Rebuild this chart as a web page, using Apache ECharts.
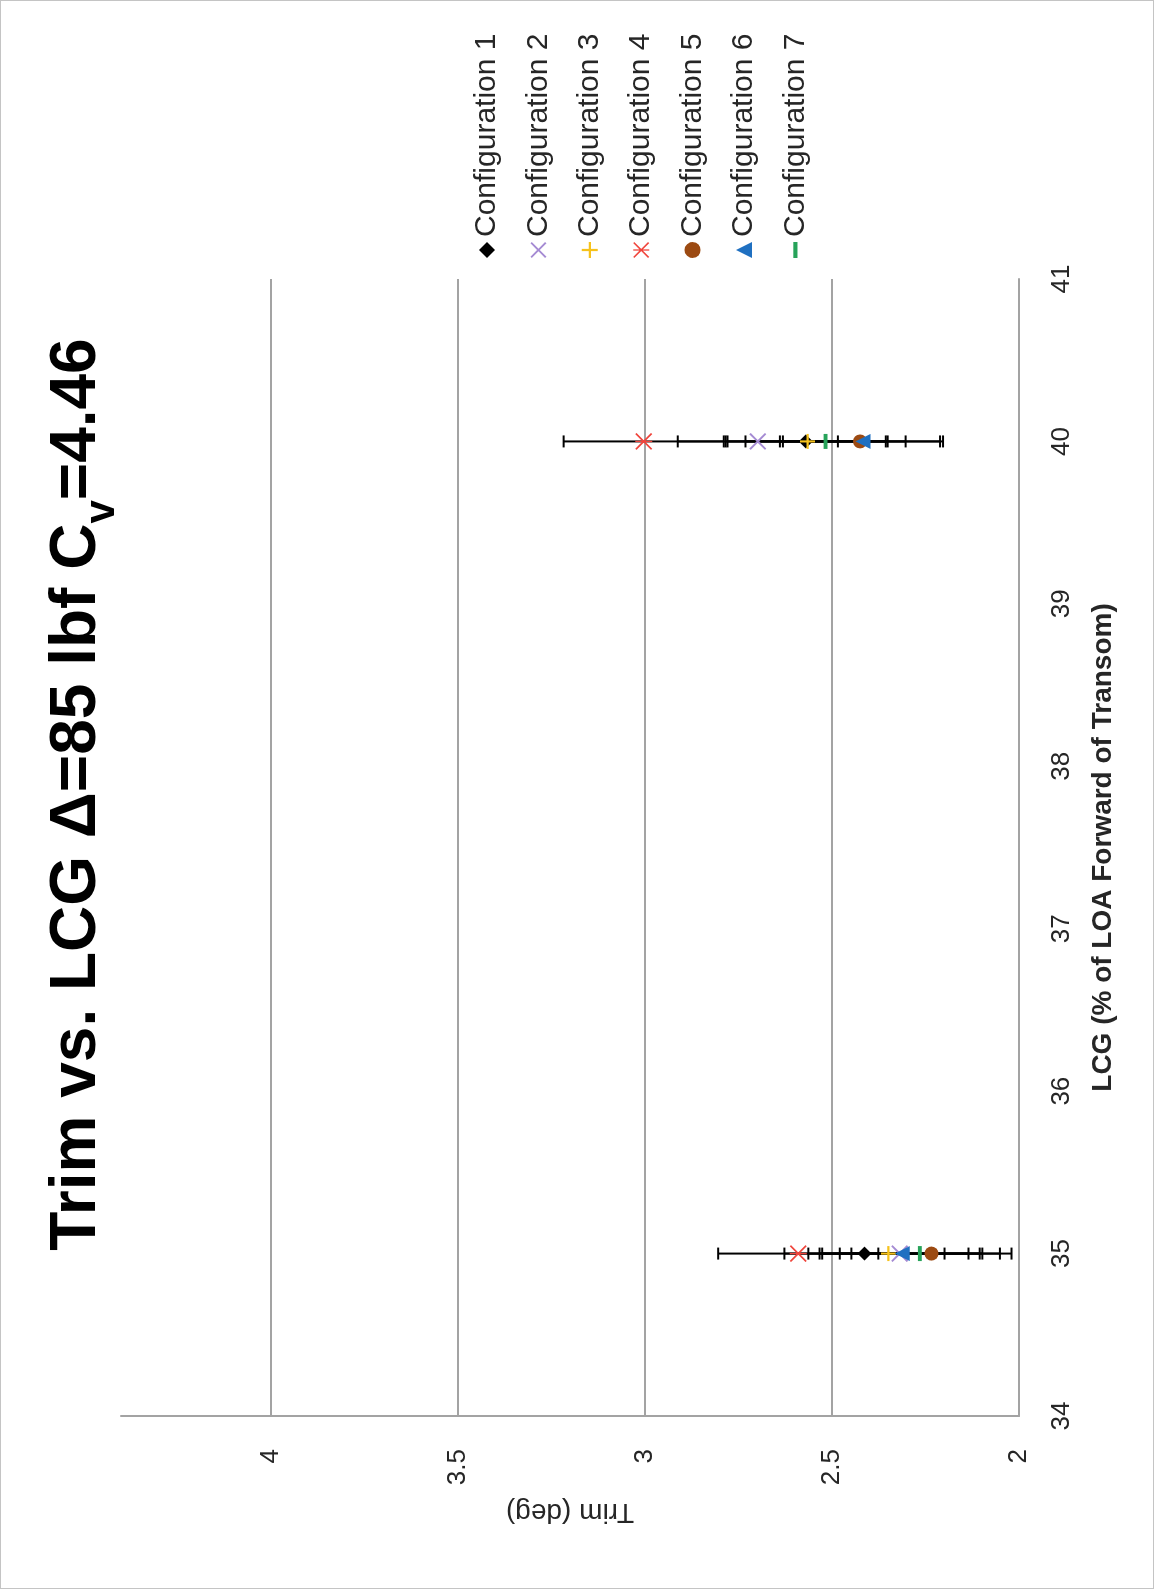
<!DOCTYPE html>
<html>
<head>
<meta charset="utf-8">
<title>Trim vs. LCG</title>
<script src="https://cdn.jsdelivr.net/npm/echarts@6/dist/echarts.min.js"></script>
<style>
  html, body { margin: 0; padding: 0; background: #ffffff; width: 1154px; height: 1589px; overflow: hidden; }
  /* thin chart-area frame */
  #frame {
    position: absolute; left: 0; top: 0; width: 1154px; height: 1589px;
    box-sizing: border-box; border: 1px solid #c4c4c4; pointer-events: none; z-index: 2;
  }
  /* The chart is laid out landscape and turned a quarter turn counter-clockwise on the portrait page. */
  #chart {
    position: absolute; left: 0; top: 0;
    width: 1589px; height: 1154px;
    transform-origin: 0 0;
    transform: translate(0, 1589px) rotate(-90deg);
  }
</style>
</head>
<body>
<div id="chart"></div>
<div id="frame"></div>
<script>
// LCG stations tested (% of LOA forward of transom)
const lcgPositions = [35, 40];

const seriesNames = [
  'Configuration 1', 'Configuration 2', 'Configuration 3', 'Configuration 4',
  'Configuration 5', 'Configuration 6', 'Configuration 7'
];

// Measured trim (deg) at each LCG station
const config1Trim = [2.413, 2.570];
const config2Trim = [2.319, 2.698];
const config3Trim = [2.349, 2.565];
const config4Trim = [2.590, 3.003];
const config5Trim = [2.234, 2.425];
const config6Trim = [2.312, 2.417];
const config7Trim = [2.265, 2.517];

// Uncertainty (+/- deg) for each configuration
const trimErrors = [0.214, 0.214, 0.214, 0.214, 0.214, 0.214, 0.214];

// Axis ranges
const lcgTicks = [34, 35, 36, 37, 38, 39, 40, 41];
const trimTicks = [2, 2.5, 3, 3.5, 4];
const trimAxisMax = 4.4;

const allTrims = [config1Trim, config2Trim, config3Trim, config4Trim, config5Trim, config6Trim, config7Trim];

const FONT = '"Liberation Sans", Arial, sans-serif';
const TEXT = '#262626';
const GRID = '#a3a3a3';

// Marker shapes, each drawn inside a 100x100 box
const X_PATH = 'path://M0,8L8,0L50,42L92,0L100,8L58,50L100,92L92,100L50,58L8,100L0,92L42,50Z';
const PLUS_PATH = 'path://M43,0H57V43H100V57H57V100H43V57H0V43H43Z';
const STAR_PATH = 'path://M0,7L7,0L50,43L93,0L100,7L57,50L100,93L93,100L50,57L7,100L0,93L43,50Z M46,0H54V100H46Z';
const DASH_PATH = 'path://M0,0M100,100M0,37H100V63H0Z';

const markerStyles = [
  { symbol: 'diamond', size: 14, color: '#000000' },
  { symbol: X_PATH, size: 17, color: '#a58bd3' },
  { symbol: PLUS_PATH, size: 15, color: '#f6c21c' },
  { symbol: STAR_PATH, size: 17, color: '#f0453c' },
  { symbol: 'circle', size: 14, color: '#9c4a12' },
  { symbol: 'triangle', size: 15, color: '#1f70c1' },
  { symbol: DASH_PATH, size: 15, color: '#27a35a' }
];

// Error bar records: [lcg, trim, halfRange]
const errorBarData = [];
allTrims.forEach((trims, s) => {
  lcgPositions.forEach((lcg, i) => errorBarData.push([lcg, trims[i], trimErrors[s]]));
});

function renderErrorBar(params, api) {
  const x = api.value(0), y = api.value(1), e = api.value(2);
  const hi = api.coord([x, y + e]);
  const lo = api.coord([x, y - e]);
  const cap = 6;
  const style = { stroke: '#000000', lineWidth: 2 };
  return {
    type: 'group',
    children: [
      { type: 'line', shape: { x1: hi[0], y1: hi[1], x2: lo[0], y2: lo[1] }, style },
      { type: 'line', shape: { x1: hi[0] - cap, y1: hi[1], x2: hi[0] + cap, y2: hi[1] }, style },
      { type: 'line', shape: { x1: lo[0] - cap, y1: lo[1], x2: lo[0] + cap, y2: lo[1] }, style }
    ]
  };
}

const scatterSeries = seriesNames.map((name, s) => ({
  name,
  type: 'scatter',
  z: 3,
  symbol: markerStyles[s].symbol,
  symbolSize: markerStyles[s].size,
  itemStyle: { color: markerStyles[s].color, opacity: 1 },
  emphasis: { disabled: true },
  data: lcgPositions.map((lcg, i) => [lcg, allTrims[s][i]])
}));

const chart = echarts.init(document.getElementById('chart'));
chart.setOption({
  animation: false,
  backgroundColor: '#ffffff',
  textStyle: { fontFamily: FONT },
  title: {
    text: '{m|Trim vs. LCG \u0394=85 lbf C}{s|v}{m|=4.46}',
    left: 'center',
    top: 45,
    padding: 0,
    textStyle: {
      rich: {
        m: { fontFamily: FONT, fontSize: 64, fontWeight: 'bold', color: '#000000', verticalAlign: 'bottom', padding: [0, 0, 14, 0] },
        s: { fontFamily: FONT, fontSize: 42, fontWeight: 'bold', color: '#000000', verticalAlign: 'bottom' }
      }
    }
  },
  legend: {
    data: seriesNames,
    orient: 'vertical',
    left: 1331,
    top: 472,
    padding: 0,
    itemWidth: 16,
    itemHeight: 16,
    itemGap: 21.4,
    selectedMode: false,
    textStyle: { fontFamily: FONT, fontSize: 30, color: TEXT, lineHeight: 30 }
  },
  grid: { left: 173, top: 121, width: 1137, height: 898, containLabel: false },
  xAxis: {
    type: 'value',
    min: lcgTicks[0],
    max: lcgTicks[lcgTicks.length - 1],
    interval: lcgTicks[1] - lcgTicks[0],
    name: 'LCG (% of LOA Forward of Transom)',
    nameLocation: 'middle',
    nameGap: 70,
    nameTextStyle: { fontFamily: FONT, fontSize: 28, fontWeight: 'bold', color: TEXT },
    axisLine: { show: true, lineStyle: { color: GRID, width: 2 } },
    axisTick: { show: false },
    splitLine: { show: false },
    axisLabel: { fontFamily: FONT, fontSize: 26, color: TEXT, margin: 30 }
  },
  yAxis: {
    type: 'value',
    min: trimTicks[0],
    max: trimAxisMax,
    interval: trimTicks[1] - trimTicks[0],
    name: 'Trim (deg)',
    nameLocation: 'middle',
    nameGap: 82,
    nameTextStyle: { fontFamily: FONT, fontSize: 28, color: TEXT },
    axisLine: { show: true, lineStyle: { color: GRID, width: 2 } },
    axisTick: { show: false },
    splitLine: {
      show: true,
      lineStyle: { color: [GRID, GRID, GRID, GRID, GRID, 'rgba(0,0,0,0)'], width: 2 }
    },
    axisLabel: { fontFamily: FONT, fontSize: 26, color: TEXT, margin: 33, showMaxLabel: false }
  },
  series: [
    {
      name: 'Error bars',
      type: 'custom',
      z: 2,
      silent: true,
      renderItem: renderErrorBar,
      encode: { x: 0, y: 1 },
      data: errorBarData
    }
  ].concat(scatterSeries)
});
</script>
</body>
</html>
